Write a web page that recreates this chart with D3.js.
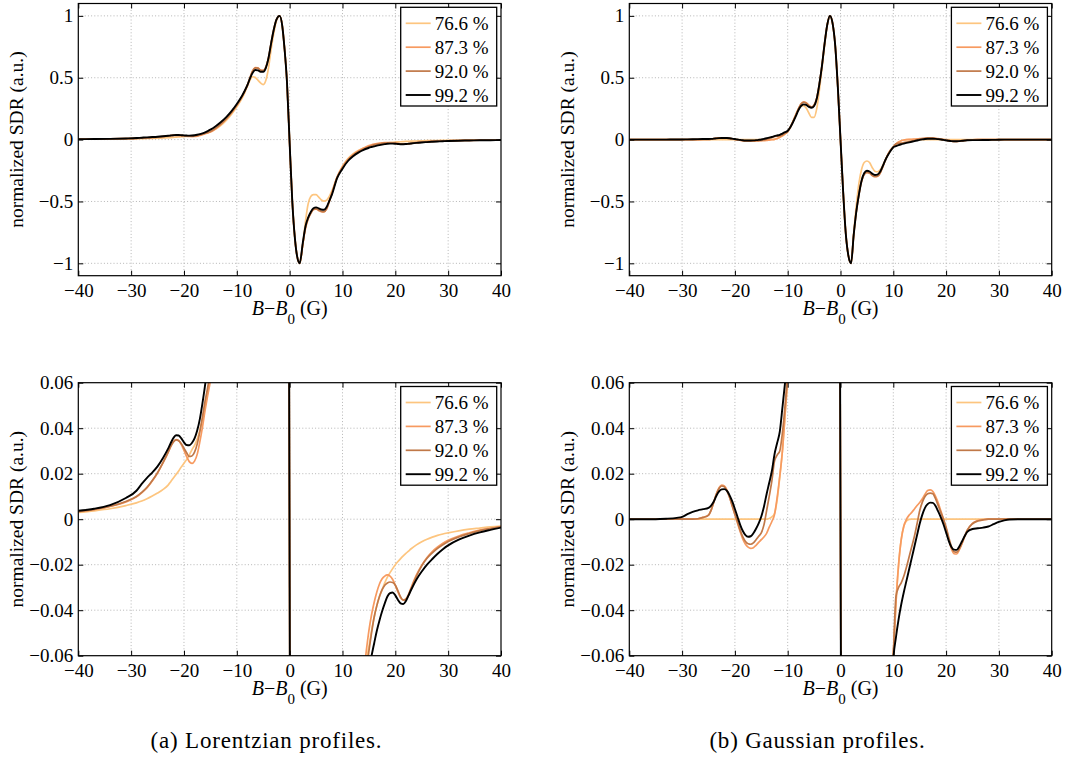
<!DOCTYPE html>
<html><head><meta charset="utf-8">
<script src="https://cdn.jsdelivr.net/npm/d3@7"></script>
<style>
body{margin:0;background:#fff;}
svg text{font-family:"Liberation Serif","Times New Roman",Tinos,"DejaVu Serif",serif;}
</style>
</head><body>
<svg id="chart" width="1071" height="776"></svg>
<script>
// ---------------- data ----------------
const seriesNames = ["76.6 %", "87.3 %", "92.0 %", "99.2 %"];
const seriesColors = ["#fdc57f", "#f79a60", "#c07848", "#000000"];
const xTicks = [-40, -30, -20, -10, 0, 10, 20, 30, 40];
const yTicksFull = [-1, -0.5, 0, 0.5, 1];
const yTicksZoom = [-0.06, -0.04, -0.02, 0, 0.02, 0.04, 0.06];
const captions = ["(a) Lorentzian profiles.", "(b) Gaussian profiles."];

// Lorentzian profiles: field offset (G)
const lorX = [-40,-37,-34,-31,-29,-28,-27,-26,-25,-24,
 -23,-22.5,-22,-21.5,-21,-20.5,-20,-19.5,-19,-18.5,
 -18,-17.5,-17,-16.5,-16,-15.5,-15,-14,-13,-12,
 -11,-10,-9,-8.5,-8,-7.5,-7,-6.5,-6,-5.5,
 -5,-4.5,-4,-3.5,-3,-2.5,-1.9,-1.4,-1,-0.5,
 0,0.5,1,1.4,1.9,2.5,3,3.5,4,4.5,
 5,5.5,6,6.5,7,7.5,8,9,10,11,
 12,13,14,14.5,15,15.5,16,16.5,17,17.5,
 18,18.5,19,19.5,20,20.5,21,21.5,22,22.5,
 23,24,25,26,27,28,29,30,32,34,
 36,38,40];
const lor766 = [0.0030,0.0037,0.0046,0.0060,0.0072,0.0080,0.0090,0.0102,0.0115,0.0130,
 0.0150,0.0165,0.0181,0.0196,0.0212,0.0230,0.0246,0.0262,0.0282,0.0305,
 0.0325,0.0352,0.0390,0.0440,0.0500,0.0560,0.0640,0.0850,0.1150,0.1550,
 0.2050,0.2650,0.3350,0.3800,0.4300,0.4800,0.5080,0.5020,0.4800,0.4580,
 0.4450,0.4800,0.5800,0.7300,0.8600,0.9600,1.0000,0.9200,0.7500,0.4600,
 -0.0300,-0.5000,-0.8000,-0.9400,-1.0000,-0.8500,-0.6600,-0.5200,-0.4600,-0.4450,
 -0.4450,-0.4650,-0.4880,-0.4980,-0.4900,-0.4600,-0.4150,-0.3000,-0.2150,-0.1550,
 -0.1150,-0.0880,-0.0690,-0.0620,-0.0560,-0.0490,-0.0430,-0.0380,-0.0340,-0.0310,
 -0.0280,-0.0255,-0.0235,-0.0217,-0.0200,-0.0186,-0.0173,-0.0161,-0.0150,-0.0140,
 -0.0130,-0.0113,-0.0099,-0.0088,-0.0079,-0.0071,-0.0065,-0.0060,-0.0051,-0.0044,
 -0.0039,-0.0034,-0.0030];
const lor873 = [0.0033,0.0042,0.0056,0.0076,0.0098,0.0116,0.0138,0.0168,0.0203,0.0246,
 0.0293,0.0320,0.0340,0.0350,0.0345,0.0328,0.0302,0.0275,0.0253,0.0245,
 0.0255,0.0285,0.0340,0.0405,0.0480,0.0545,0.0610,0.0880,0.1250,0.1680,
 0.2180,0.2780,0.3480,0.3900,0.4400,0.5000,0.5560,0.5820,0.5800,0.5620,
 0.5600,0.5870,0.6600,0.7800,0.8900,0.9700,1.0000,0.9200,0.7500,0.4600,
 -0.0300,-0.5000,-0.8000,-0.9400,-1.0000,-0.8400,-0.7200,-0.6400,-0.5950,-0.5650,
 -0.5600,-0.5720,-0.5820,-0.5840,-0.5600,-0.5000,-0.4320,-0.3000,-0.2220,-0.1620,
 -0.1220,-0.0920,-0.0680,-0.0580,-0.0490,-0.0420,-0.0365,-0.0320,-0.0285,-0.0262,
 -0.0250,-0.0245,-0.0250,-0.0265,-0.0290,-0.0320,-0.0345,-0.0356,-0.0350,-0.0330,
 -0.0300,-0.0245,-0.0202,-0.0168,-0.0142,-0.0122,-0.0106,-0.0093,-0.0074,-0.0060,
 -0.0048,-0.0040,-0.0033];
const lor920 = [0.0033,0.0043,0.0057,0.0078,0.0100,0.0118,0.0140,0.0170,0.0205,0.0248,
 0.0295,0.0320,0.0340,0.0349,0.0345,0.0332,0.0312,0.0292,0.0276,0.0278,
 0.0295,0.0330,0.0385,0.0450,0.0520,0.0580,0.0660,0.0930,0.1280,0.1700,
 0.2200,0.2800,0.3500,0.3920,0.4400,0.5000,0.5550,0.5800,0.5780,0.5600,
 0.5580,0.5850,0.6600,0.7800,0.8900,0.9700,1.0000,0.9200,0.7500,0.4600,
 -0.0300,-0.5000,-0.8000,-0.9400,-1.0000,-0.8400,-0.7100,-0.6400,-0.5950,-0.5650,
 -0.5600,-0.5700,-0.5800,-0.5820,-0.5600,-0.5000,-0.4350,-0.3050,-0.2280,-0.1680,
 -0.1280,-0.0980,-0.0760,-0.0670,-0.0580,-0.0500,-0.0430,-0.0380,-0.0340,-0.0310,
 -0.0290,-0.0280,-0.0276,-0.0278,-0.0290,-0.0315,-0.0342,-0.0356,-0.0352,-0.0335,
 -0.0305,-0.0250,-0.0205,-0.0172,-0.0148,-0.0128,-0.0112,-0.0098,-0.0078,-0.0063,
 -0.0050,-0.0041,-0.0034];
const lor992 = [0.0037,0.0046,0.0062,0.0093,0.0125,0.0155,0.0182,0.0205,0.0232,0.0268,
 0.0310,0.0335,0.0357,0.0369,0.0368,0.0355,0.0338,0.0326,0.0325,0.0335,
 0.0355,0.0390,0.0440,0.0510,0.0590,0.0690,0.0800,0.1080,0.1420,0.1820,
 0.2300,0.2880,0.3550,0.3950,0.4400,0.4950,0.5400,0.5620,0.5600,0.5480,
 0.5480,0.5800,0.6600,0.7800,0.8900,0.9700,1.0000,0.9200,0.7500,0.4600,
 -0.0300,-0.5000,-0.8000,-0.9400,-1.0000,-0.8300,-0.7000,-0.6300,-0.5850,-0.5550,
 -0.5480,-0.5550,-0.5650,-0.5670,-0.5450,-0.4950,-0.4450,-0.3100,-0.2350,-0.1750,
 -0.1350,-0.1050,-0.0830,-0.0740,-0.0660,-0.0600,-0.0545,-0.0490,-0.0445,-0.0405,
 -0.0370,-0.0340,-0.0325,-0.0322,-0.0335,-0.0355,-0.0370,-0.0373,-0.0360,-0.0335,
 -0.0310,-0.0265,-0.0230,-0.0200,-0.0175,-0.0152,-0.0132,-0.0115,-0.0090,-0.0072,
 -0.0058,-0.0047,-0.0037];

// Gaussian profiles: field offset (G)
const gauX = [-40,-35,-33,-31,-30,-29,-28,-27,-26,-25,
 -24.5,-24,-23.5,-23,-22.5,-22,-21.5,-21,-20.5,-20,
 -19.5,-19,-18.5,-18,-17.5,-17,-16.5,-16,-15.5,-15,
 -14.5,-14,-13.5,-13,-12.5,-12,-11.5,-11,-10.5,-10,
 -9.5,-9,-8.5,-8,-7.5,-7,-6.5,-6,-5.5,-5,
 -4.5,-4,-3.5,-3,-2.5,-2,-1.5,-1,-0.5,0,
 0.5,1,1.5,2,2.5,3,3.5,4,4.5,5,
 5.5,6,6.5,7,7.5,8,8.5,9,9.5,10,
 10.5,11,11.5,12,12.5,13,13.5,14,14.5,15,
 15.5,16,16.5,17,17.5,18,18.5,19,19.5,20,
 20.5,21,21.5,22,22.5,23,23.5,24,25,26,
 27,28,29,30,31,32,34,36,40];
const gau766 = [0,0,0,0,0,0,0,0,0,0,
 0,0,0,0,0,0,0,0,0,0,
 0,0,0,0,0,0,0,0,0,0,
 0,0,0.0003,0.0010,0.0025,0.0085,0.0185,0.0300,0.0460,0.0640,
 0.1000,0.1500,0.2000,0.2450,0.2700,0.2750,0.2550,0.2150,0.1800,0.1800,
 0.2500,0.4000,0.5800,0.7700,0.9300,1.0000,0.9400,0.7600,0.4200,0,
 -0.4200,-0.7600,-0.9400,-1.0000,-0.7600,-0.5300,-0.3500,-0.2400,-0.1850,-0.1730,
 -0.1850,-0.2250,-0.2550,-0.2600,-0.2450,-0.2100,-0.1650,-0.1200,-0.0850,-0.0600,
 -0.0370,-0.0200,-0.0090,-0.0030,-0.0007,-0.0001,0,0,0,0,
 0,0,0,0,0,0,0,0,0,0,
 0,0,0,0,0,0,0,0,0,0,
 0,0,0,0,0,0,0,0,0];
const gau873 = [0,0,0,0,0,0,0,0.0002,0.0008,0.0018,
 0.0040,0.0076,0.0112,0.0138,0.0150,0.0146,0.0128,0.0097,0.0058,0.0020,
 -0.0018,-0.0055,-0.0088,-0.0110,-0.0123,-0.0128,-0.0125,-0.0115,-0.0102,-0.0090,
 -0.0078,-0.0062,-0.0035,-0.0010,0.0020,0.0095,0.0190,0.0300,0.0460,0.0640,
 0.1000,0.1450,0.1950,0.2450,0.2870,0.3050,0.2980,0.2780,0.2630,0.2790,
 0.3350,0.4500,0.6000,0.7800,0.9300,1.0000,0.9400,0.7600,0.4200,0,
 -0.4200,-0.7600,-0.9400,-1.0000,-0.7700,-0.5800,-0.4400,-0.3350,-0.2800,-0.2650,
 -0.2710,-0.2900,-0.3000,-0.2980,-0.2720,-0.2200,-0.1650,-0.1200,-0.0850,-0.0600,
 -0.0370,-0.0200,-0.0090,-0.0030,0,0.0018,0.0030,0.0045,0.0060,0.0073,
 0.0090,0.0110,0.0126,0.0129,0.0122,0.0100,0.0072,0.0037,0,-0.0040,
 -0.0088,-0.0130,-0.0152,-0.0153,-0.0135,-0.0108,-0.0078,-0.0050,-0.0018,-0.0006,
 -0.0002,0,0,0,0,0,0,0,0];
const gau920 = [0,0,0,0,0,0,0,0.0002,0.0008,0.0018,
 0.0040,0.0075,0.0110,0.0135,0.0146,0.0143,0.0125,0.0095,0.0058,0.0022,
 -0.0012,-0.0048,-0.0078,-0.0098,-0.0108,-0.0110,-0.0104,-0.0090,-0.0075,-0.0060,
 -0.0025,0.0037,0.0100,0.0168,0.0255,0.0282,0.0300,0.0380,0.0500,0.0660,
 0.1000,0.1450,0.1950,0.2450,0.2850,0.3020,0.2950,0.2750,0.2620,0.2780,
 0.3350,0.4500,0.6000,0.7800,0.9300,1.0000,0.9400,0.7600,0.4200,0,
 -0.4200,-0.7600,-0.9400,-1.0000,-0.7700,-0.5800,-0.4400,-0.3350,-0.2800,-0.2650,
 -0.2700,-0.2880,-0.2980,-0.2960,-0.2700,-0.2200,-0.1650,-0.1200,-0.0850,-0.0600,
 -0.0340,-0.0300,-0.0280,-0.0250,-0.0210,-0.0165,-0.0120,-0.0075,-0.0020,0.0037,
 0.0075,0.0100,0.0112,0.0115,0.0112,0.0090,0.0060,0.0030,0,-0.0035,
 -0.0080,-0.0120,-0.0143,-0.0145,-0.0130,-0.0105,-0.0075,-0.0048,-0.0020,-0.0008,
 -0.0003,0,0,0,0,0,0,0,0];
const gau992 = [0,0,0.0002,0.0006,0.0010,0.0022,0.0032,0.0039,0.0044,0.0050,
 0.0060,0.0078,0.0103,0.0122,0.0131,0.0132,0.0124,0.0105,0.0078,0.0045,
 0.0010,-0.0025,-0.0052,-0.0070,-0.0077,-0.0075,-0.0062,-0.0042,-0.0018,0.0012,
 0.0055,0.0110,0.0160,0.0212,0.0285,0.0335,0.0385,0.0490,0.0600,0.0720,
 0.1000,0.1400,0.1850,0.2350,0.2700,0.2850,0.2800,0.2650,0.2570,0.2720,
 0.3300,0.4500,0.6000,0.7800,0.9300,1.0000,0.9400,0.7600,0.4200,0,
 -0.4200,-0.7600,-0.9400,-1.0000,-0.7700,-0.5800,-0.4400,-0.3300,-0.2700,-0.2520,
 -0.2580,-0.2750,-0.2860,-0.2830,-0.2600,-0.2150,-0.1650,-0.1250,-0.0900,-0.0620,
 -0.0520,-0.0440,-0.0375,-0.0320,-0.0270,-0.0220,-0.0170,-0.0120,-0.0070,-0.0020,
 0.0020,0.0050,0.0066,0.0073,0.0072,0.0058,0.0034,0.0008,-0.0022,-0.0058,
 -0.0095,-0.0122,-0.0134,-0.0135,-0.0120,-0.0098,-0.0075,-0.0056,-0.0043,-0.0040,
 -0.0037,-0.0032,-0.0022,-0.0012,-0.0005,-0.0001,0,0,0];

// ---------------- drawing ----------------
const svg = d3.select("#chart");
const fmt = d => String(d).replace("-", "\u2212");

const panels = [
  {id:"tl", left:78.3, right:501, top:3.5, bottom:275.7, X:lorX, Ys:[lor766,lor873,lor920,lor992], yDom:[-1.1,1.1], yT:yTicksFull},
  {id:"tr", left:629.3, right:1051.7, top:3.5, bottom:275.7, X:gauX, Ys:[gau766,gau873,gau920,gau992], yDom:[-1.1,1.1], yT:yTicksFull},
  {id:"bl", left:78.3, right:501, top:382.7, bottom:655.7, X:lorX, Ys:[lor766,lor873,lor920,lor992], yDom:[-0.06,0.06], yT:yTicksZoom},
  {id:"br", left:629.3, right:1051.7, top:382.7, bottom:655.7, X:gauX, Ys:[gau766,gau873,gau920,gau992], yDom:[-0.06,0.06], yT:yTicksZoom}
];

panels.forEach(p => {
  const x = d3.scaleLinear().domain([-40, 40]).range([p.left, p.right]);
  const y = d3.scaleLinear().domain(p.yDom).range([p.bottom, p.top]);
  const g = svg.append("g");

  g.append("rect").attr("x", p.left).attr("y", p.top)
    .attr("width", p.right - p.left).attr("height", p.bottom - p.top).attr("fill", "#fff");

  // grid
  const grid = g.append("g").attr("stroke", "#b5b5b5").attr("stroke-width", 1)
    .attr("stroke-dasharray", "1,2.2");
  xTicks.slice(1, -1).forEach(t => grid.append("line")
    .attr("x1", x(t)).attr("x2", x(t)).attr("y1", p.top).attr("y2", p.bottom));
  p.yT.slice(1, -1).forEach(t => grid.append("line")
    .attr("x1", p.left).attr("x2", p.right).attr("y1", y(t)).attr("y2", y(t)));
  if (p.yDom[1] > 1) {
    [-1, 1].forEach(t => grid.append("line")
      .attr("x1", p.left).attr("x2", p.right).attr("y1", y(t)).attr("y2", y(t)));
  }

  // curves
  const clipId = "clip-" + p.id;
  svg.append("clipPath").attr("id", clipId).append("rect")
    .attr("x", p.left).attr("y", p.top).attr("width", p.right - p.left).attr("height", p.bottom - p.top);
  const line = d3.line().x(d => x(d[0])).y(d => y(d[1])).curve(d3.curveMonotoneX);
  const cg = g.append("g").attr("clip-path", `url(#${clipId})`);
  p.Ys.forEach((ys, i) => {
    cg.append("path").datum(p.X.map((xv, k) => [xv, ys[k]]))
      .attr("d", line).attr("fill", "none")
      .attr("stroke", seriesColors[i]).attr("stroke-width", i === 3 ? 1.9 : 1.7)
      .attr("stroke-linejoin", "round");
  });

  // axes (ticks inward on all sides)
  const ax = g.append("g");
  ax.append("g").attr("transform", `translate(0,${p.bottom})`)
    .call(d3.axisBottom(x).tickValues(xTicks).tickFormat(fmt).tickSizeInner(-5).tickSizeOuter(0).tickPadding(8));
  ax.append("g").attr("transform", `translate(${p.left},0)`)
    .call(d3.axisLeft(y).tickValues(p.yT).tickFormat(fmt).tickSizeInner(-5).tickSizeOuter(0).tickPadding(5));
  ax.append("g").attr("transform", `translate(0,${p.top})`)
    .call(d3.axisTop(x).tickValues(xTicks).tickFormat("").tickSizeInner(-5).tickSizeOuter(0));
  ax.append("g").attr("transform", `translate(${p.right},0)`)
    .call(d3.axisRight(y).tickValues(p.yT).tickFormat("").tickSizeInner(-5).tickSizeOuter(0));
  ax.selectAll("g").attr("font-family", null).attr("font-size", null);
  ax.selectAll(".domain").remove();
  ax.selectAll(".tick line").attr("stroke", "#000").attr("stroke-width", 1);
  ax.selectAll("text").style("font-size", "19px").attr("fill", "#000");

  // frame
  g.append("rect").attr("x", p.left).attr("y", p.top)
    .attr("width", p.right - p.left).attr("height", p.bottom - p.top)
    .attr("fill", "none").attr("stroke", "#000").attr("stroke-width", 1.2);

  // legend
  const lx = p.right - 100.3, ly = p.top + 3.8;
  const lg = g.append("g");
  lg.append("rect").attr("x", lx).attr("y", ly).attr("width", 96).attr("height", 98.7)
    .attr("fill", "#fff").attr("stroke", "#000").attr("stroke-width", 1.3);
  seriesNames.forEach((name, i) => {
    const yy = ly + 16 + i * 23.9;
    lg.append("line").attr("x1", lx + 5).attr("x2", lx + 30).attr("y1", yy).attr("y2", yy)
      .attr("stroke", seriesColors[i]).attr("stroke-width", i === 3 ? 1.9 : 1.7);
    lg.append("text").attr("x", lx + 34).attr("y", yy).attr("dy", "0.35em")
      .style("font-size", "19px").text(name);
  });

  // x label: B−B0 (G)
  const xl = g.append("text").attr("x", (p.left + p.right) / 2).attr("y", p.bottom + 39.5)
    .attr("text-anchor", "middle").style("font-size", "20px");
  xl.append("tspan").attr("font-style", "italic").text("B");
  xl.append("tspan").text("\u2212");
  xl.append("tspan").attr("font-style", "italic").text("B");
  xl.append("tspan").attr("dy", 9).style("font-size", "15px").text("0");
  xl.append("tspan").attr("dy", -9).text(" (G)");

  // y label
  g.append("text").attr("transform", `translate(${p.left - 55},${(p.top + p.bottom) / 2}) rotate(-90)`)
    .attr("text-anchor", "middle").style("font-size", "19.5px")
    .text("normalized SDR (a.u.)");
});

// captions
[[266.5, captions[0]], [817.5, captions[1]]].forEach(([cx, t]) => {
  svg.append("text").attr("x", cx).attr("y", 748).attr("text-anchor", "middle")
    .style("font-size", "23px").style("letter-spacing", "0.8px").text(t);
});
</script>
</body></html>
